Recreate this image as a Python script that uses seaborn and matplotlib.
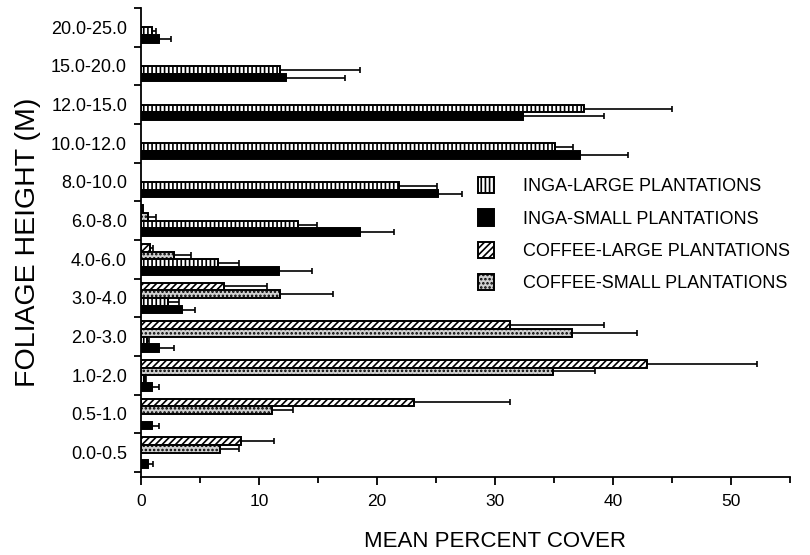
import matplotlib
matplotlib.use("Agg")
import matplotlib.pyplot as plt
import seaborn as sns
import pandas as pd
import numpy as np
from matplotlib.patches import Patch
from matplotlib.ticker import MultipleLocator, FixedLocator

categories = ["20.0-25.0", "15.0-20.0", "12.0-15.0", "10.0-12.0", "8.0-10.0",
              "6.0-8.0", "4.0-6.0", "3.0-4.0", "2.0-3.0", "1.0-2.0",
              "0.5-1.0", "0.0-0.5"]

series_names = ["COFFEE-LARGE PLANTATIONS", "COFFEE-SMALL PLANTATIONS",
                "INGA-LARGE PLANTATIONS", "INGA-SMALL PLANTATIONS"]

inga_large = [0.9, 11.8, 37.5, 35.1, 21.9, 13.3, 6.5, 2.3, 0.5, 0.3, 0.0, 0.0]
inga_large_err = [0.4, 6.8, 7.5, 1.5, 3.2, 1.6, 1.8, 0.9, 0.2, 0.1, 0.0, 0.0]

inga_small = [1.5, 12.3, 32.4, 37.2, 25.2, 18.6, 11.7, 3.5, 1.5, 0.9, 0.9, 0.6]
inga_small_err = [1.0, 5.0, 6.8, 4.1, 2.0, 2.8, 2.8, 1.1, 1.3, 0.6, 0.6, 0.4]

coffee_large = [0.0, 0.0, 0.0, 0.0, 0.0, 0.2, 0.8, 7.0, 31.3, 42.9, 23.1, 8.5]
coffee_large_err = [0.0, 0.0, 0.0, 0.0, 0.0, 0.0, 0.2, 3.7, 7.9, 9.3, 8.2, 2.8]

coffee_small = [0.0, 0.0, 0.0, 0.0, 0.0, 0.6, 2.8, 11.8, 36.5, 34.9, 11.1, 6.7]
coffee_small_err = [0.0, 0.0, 0.0, 0.0, 0.0, 0.7, 1.4, 4.5, 5.5, 3.6, 1.8, 1.6]

x_ticks = [0, 10, 20, 30, 40, 50]

legend_labels = ["INGA-LARGE PLANTATIONS", "INGA-SMALL PLANTATIONS",
                 "COFFEE-LARGE PLANTATIONS", "COFFEE-SMALL PLANTATIONS"]

values = {series_names[0]: coffee_large, series_names[1]: coffee_small,
          series_names[2]: inga_large, series_names[3]: inga_small}
errors = {series_names[0]: coffee_large_err, series_names[1]: coffee_small_err,
          series_names[2]: inga_large_err, series_names[3]: inga_small_err}

rows = []
for s in series_names:
    for c, v in zip(categories, values[s]):
        rows.append({"height": c, "cover": v, "series": s})
df = pd.DataFrame(rows)

sns.set_style("ticks")
plt.rcParams['font.family'] = ['Liberation Sans', 'DejaVu Sans']
plt.rcParams['hatch.linewidth'] = 1.2
for k in ["text.color", "axes.labelcolor", "xtick.color", "ytick.color", "axes.edgecolor"]:
    plt.rcParams[k] = "black"

fig = plt.figure(figsize=(8.1, 5.55), dpi=100)
ax = fig.add_axes([141/810, 1-477/555, (790-141)/810, (477-8)/555])

sns.barplot(data=df, y="height", x="cover", hue="series", hue_order=series_names,
            order=categories, orient="h", width=0.8, errorbar=None,
            legend=False, ax=ax)

styles = {
    series_names[0]: dict(facecolor="white", hatch="/////"),
    series_names[1]: dict(facecolor="#cfcfcf", hatch="...."),
    series_names[2]: dict(facecolor="white", hatch="||||"),
    series_names[3]: dict(facecolor="black", hatch=None),
}

for s, cont in zip(series_names, ax.containers):
    st = styles[s]
    for p, err in zip(cont.patches, errors[s]):
        p.set_facecolor(st["facecolor"])
        p.set_edgecolor("black")
        p.set_linewidth(1.4)
        if st["hatch"]:
            p.set_hatch(st["hatch"])
        w = p.get_width()
        if w <= 0:
            p.set_visible(False)
            continue
        yc = p.get_y() + p.get_height() / 2
        if err > 0:
            ax.errorbar(w, yc, xerr=[[0], [err]], fmt="none", ecolor="black",
                        elinewidth=1.2, capsize=2.5, capthick=1.2, zorder=5)

ax.set_xlim(0, 55)
ax.set_ylim(11.63, -0.5)

ax.xaxis.set_major_locator(FixedLocator(x_ticks))
ax.xaxis.set_minor_locator(MultipleLocator(5))
ax.set_xticklabels([str(t) for t in x_ticks], fontsize=12.5)
ax.tick_params(axis="x", which="major", length=6, width=1.3, pad=6)
ax.tick_params(axis="x", which="minor", length=4, width=1.3)

ax.set_yticks(range(len(categories)))
ax.set_yticklabels(categories, fontsize=13)
ax.yaxis.set_minor_locator(FixedLocator(np.arange(-0.5, len(categories), 1.0)))
ax.tick_params(axis="y", which="major", length=0, pad=10)
ax.tick_params(axis="y", which="minor", length=5, width=1.3)

for sp in ["top", "right"]:
    ax.spines[sp].set_visible(False)
for sp in ["left", "bottom"]:
    ax.spines[sp].set_linewidth(1.3)

ax.set_xlabel("MEAN PERCENT COVER", fontsize=16, labelpad=18)
ax.xaxis.set_label_coords((495 - 141) / (790 - 141), -0.115)
ax.set_ylabel("FOLIAGE HEIGHT (M)", fontsize=20.5, labelpad=7)

legend_order = [series_names[2], series_names[3], series_names[0], series_names[1]]
handles = [Patch(facecolor=styles[s]["facecolor"], edgecolor="black",
                 hatch=styles[s]["hatch"], linewidth=1.4)
           for s in legend_order]
fig.legend(handles, legend_labels, loc="upper left", bbox_to_anchor=(478/810, 1-177/555),
           frameon=False, fontsize=13, handlelength=0.9, handleheight=1.0,
           handletextpad=1.6, labelspacing=0.78, borderpad=0, borderaxespad=0)

fig.savefig("out.png", dpi=100)
